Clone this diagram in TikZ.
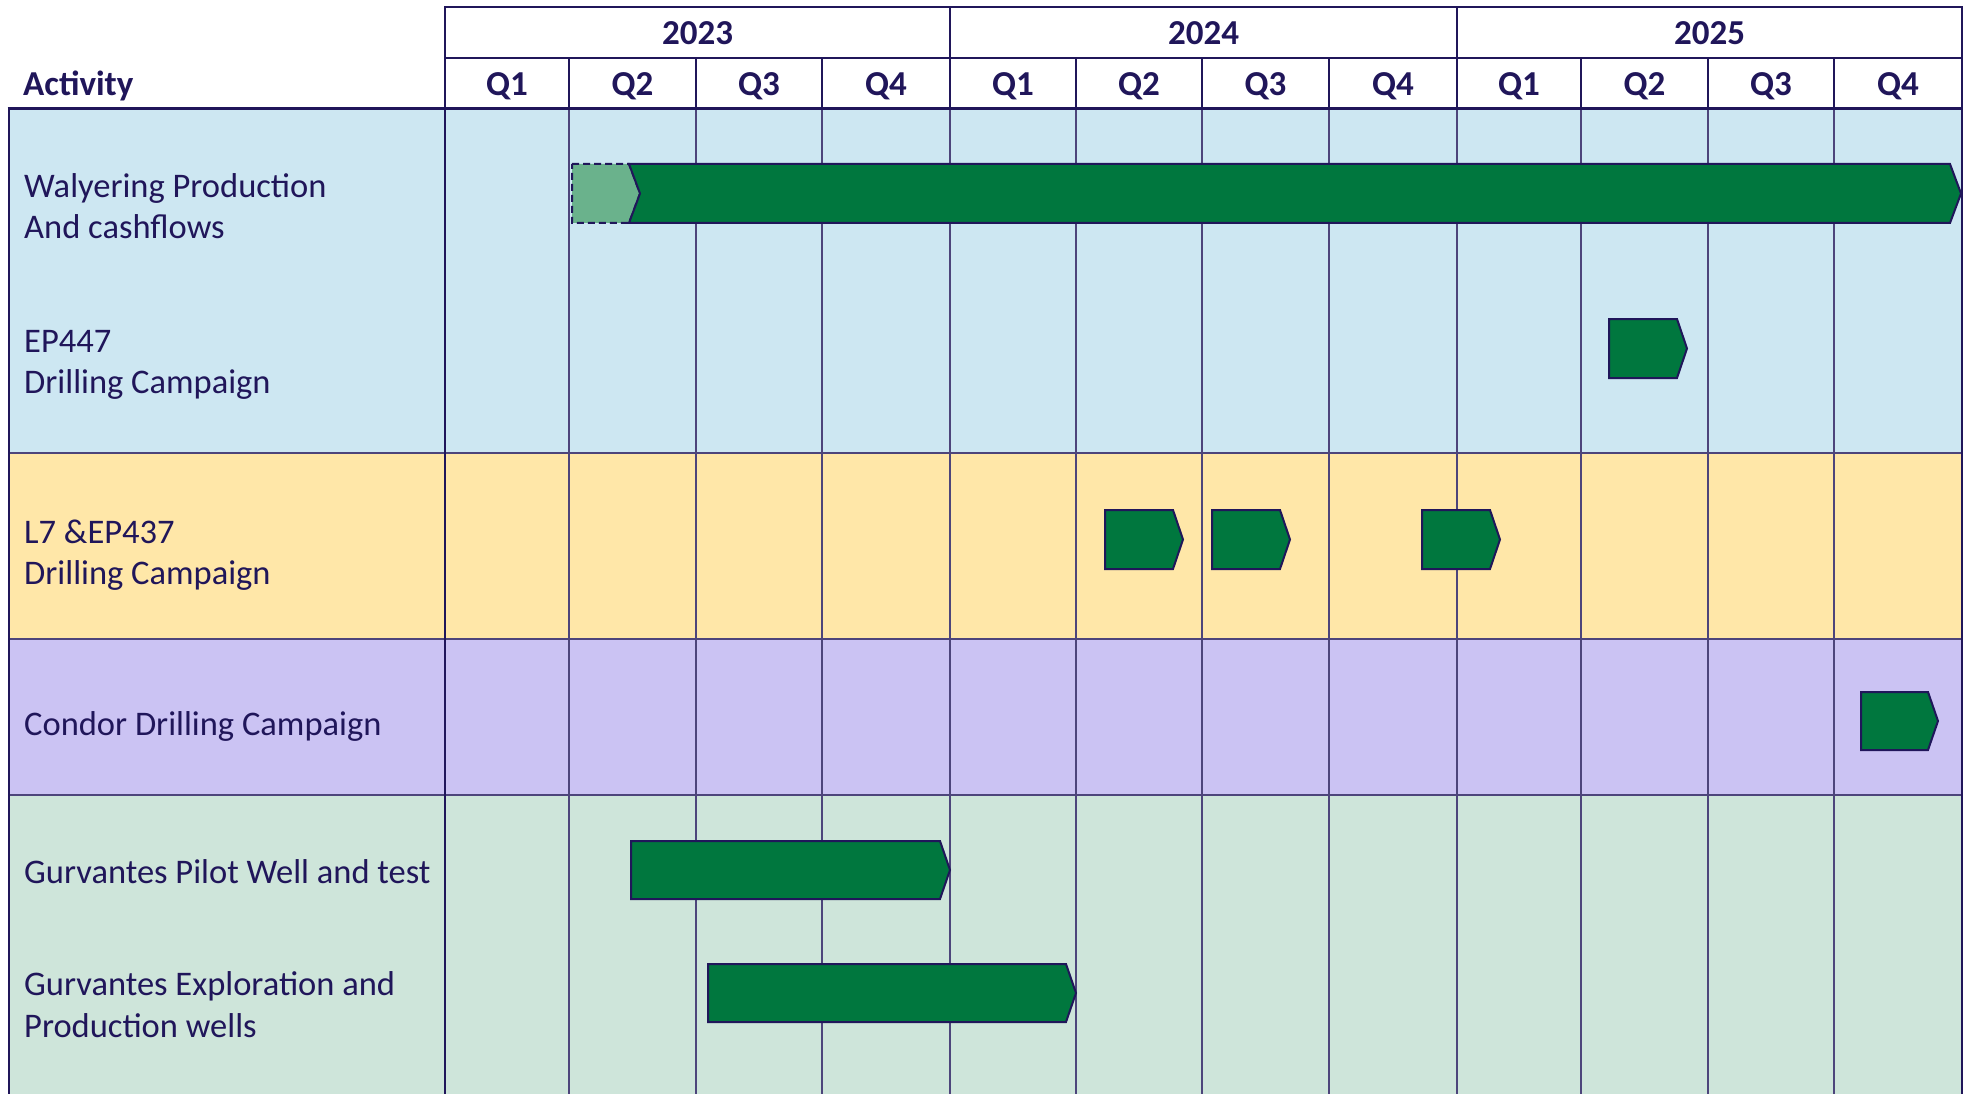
\documentclass[tikz,border=0pt]{standalone}
\usepackage{fontspec}
\setmainfont{Carlito}
\definecolor{navy}{RGB}{32,22,90}
\definecolor{rowblue}{RGB}{205,231,242}
\definecolor{rowyellow}{RGB}{255,231,168}
\definecolor{rowpurple}{RGB}{203,195,243}
\definecolor{rowgreen}{RGB}{206,229,218}
\definecolor{bargreen}{RGB}{0,119,62}
\definecolor{lightbar}{RGB}{106,178,140}
\begin{document}
\begin{tikzpicture}[x=1pt,y=-1pt,
  lbl/.style={anchor=base west,inner sep=0pt,text=navy,font=\fontsize{34.5}{41}\selectfont},
  hdr/.style={anchor=base,inner sep=0pt,text=navy,font=\fontsize{35}{41}\selectfont\bfseries},
  hbox/.style={draw=navy,line width=2pt,fill=white},
  qline/.style={draw=navy!80,line width=1.2pt},
  sep/.style={draw=navy!80,line width=1.5pt},
  frame/.style={draw=navy,line width=2pt},
  barstyle/.style={draw=navy,line width=2pt,fill=bargreen,line join=miter},
  ghost/.style={draw=navy,line width=2pt,fill=lightbar,dash pattern=on 7pt off 4pt}
]
\useasboundingbox (0,0) rectangle (1966,1094);
% row bands
\fill[rowblue] (9,109) rectangle (1962,453);
\fill[rowyellow] (9,453) rectangle (1962,639);
\fill[rowpurple] (9,639) rectangle (1962,795);
\fill[rowgreen] (9,795) rectangle (1962,1094);
% row separators
\draw[sep] (9,453) -- (1962,453);
\draw[sep] (9,639) -- (1962,639);
\draw[sep] (9,795) -- (1962,795);
% quarter grid lines
\foreach \x in {569,696,822,950,1076,1202,1329,1457,1581,1708,1834}
  \draw[qline] (\x,109) -- (\x,1094);
% borders
\draw[frame] (445,109) -- (445,1094);
\draw[frame,line width=2.8pt] (9,108) -- (9,1094);
\draw[frame] (1962,109) -- (1962,1094);
% header boxes
\draw[hbox] (445,7.5) rectangle (950,58);
\draw[hbox] (950,7.5) rectangle (1457,58);
\draw[hbox] (1457,7.5) rectangle (1962,58);
\foreach \a/\b in {445/569,569/696,696/822,822/950,950/1076,1076/1202,1202/1329,1329/1457,1457/1581,1581/1708,1708/1834,1834/1962}
  \draw[hbox] (\a,58) rectangle (\b,108.5);
\draw[frame,line width=2.6pt] (7.6,108.5) -- (1962,108.5);
% header texts
\node[hdr,anchor=base west] (act) at (23,96) {Activity};
\node[hdr] (y23) at (697.5,45) {2023};
\node[hdr] (y24) at (1203.5,45) {2024};
\node[hdr] (y25) at (1709.5,45) {2025};
\node[hdr] (q1a) at (507,96) {Q1};
\node[hdr] (q2a) at (632.5,96) {Q2};
\node[hdr] (q3a) at (759,96) {Q3};
\node[hdr] (q4a) at (886,96) {Q4};
\node[hdr] (q1b) at (1013,96) {Q1};
\node[hdr] (q2b) at (1139,96) {Q2};
\node[hdr] (q3b) at (1265.5,96) {Q3};
\node[hdr] (q4b) at (1393,96) {Q4};
\node[hdr] (q1c) at (1519,96) {Q1};
\node[hdr] (q2c) at (1644.5,96) {Q2};
\node[hdr] (q3c) at (1771,96) {Q3};
\node[hdr] (q4c) at (1898,96) {Q4};
% activity labels
\node[lbl] (wal1) at (24,198) {Walyering Production};
\node[lbl] (wal2) at (24,239) {And cashflows};
\node[lbl] (ep1) at (24,352) {EP447};
\node[lbl] (ep2) at (24,393) {Drilling Campaign};
\node[lbl] (l71) at (24,543) {L7 \&EP437};
\node[lbl] (l72) at (24,584) {Drilling Campaign};
\node[lbl] (con) at (24,735) {Condor Drilling Campaign};
\node[lbl] (gpw) at (24,883) {Gurvantes Pilot Well and test};
\node[lbl] (gex1) at (24,995) {Gurvantes Exploration and};
\node[lbl] (gex2) at (24,1037) {Production wells};
% bars
\draw[ghost] (572,164) -- (629,164) -- (640,193.5) -- (629,223) -- (572,223) -- cycle;
\draw[barstyle] (629,164) -- (1950,164) -- (1961,193.5) -- (1950,223) -- (629,223) -- (640,193.5) -- cycle;
\draw[barstyle] (1609,319) -- (1677,319) -- (1687,348.5) -- (1677,378) -- (1609,378) -- cycle;
\draw[barstyle] (1105,510) -- (1173,510) -- (1183,539.5) -- (1173,569) -- (1105,569) -- cycle;
\draw[barstyle] (1212,510) -- (1280,510) -- (1290,539.5) -- (1280,569) -- (1212,569) -- cycle;
\draw[barstyle] (1422,510) -- (1490,510) -- (1500,539.5) -- (1490,569) -- (1422,569) -- cycle;
\draw[barstyle] (1861,692) -- (1928,692) -- (1938,721) -- (1928,750) -- (1861,750) -- cycle;
\draw[barstyle] (631,841) -- (940,841) -- (950,870) -- (940,899) -- (631,899) -- cycle;
\draw[barstyle] (708,964) -- (1066,964) -- (1076,993) -- (1066,1022) -- (708,1022) -- cycle;
\end{tikzpicture}
\end{document}
